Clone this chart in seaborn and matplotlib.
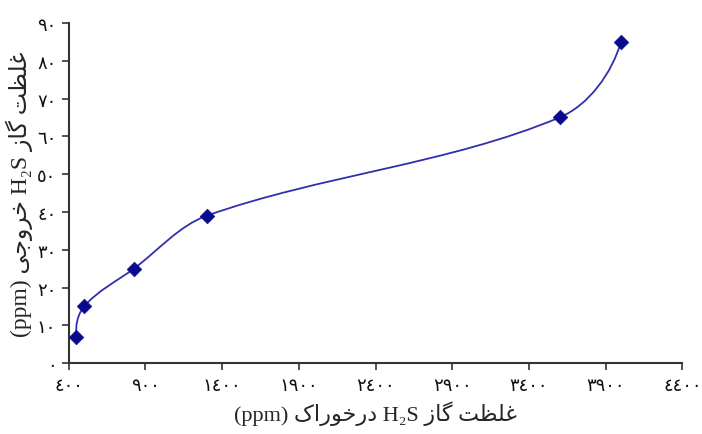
import numpy as np
import matplotlib
matplotlib.use('Agg')
import matplotlib.pyplot as plt
from matplotlib.path import Path
from matplotlib.patches import PathPatch
import seaborn as sns

# ── data ────────────────────────────────────────────────
feed_ppm = [450, 500, 825, 1300, 3600, 4000]   # H2S in feed
outlet_ppm = [7, 15, 25, 39, 65, 85]           # H2S at outlet

x_ticks = [400, 900, 1400, 1900, 2400, 2900, 3400, 3900, 4400]
y_ticks = [0, 10, 20, 30, 40, 50, 60, 70, 80, 90]

# Persian words, pre-shaped glyphs in visual (left-to-right) order,
# since matplotlib has no bidi / shaping engine
W_GHELZAT = '\uFE96\uFEC8\uFEE0\uFECF'              # غلظت
W_GAZ = '\uFEAF\uFE8E\uFB94'                        # گاز
W_DARKHORAK = '\uFB8E\uFE8D\uFEAD\uFEEE\uFEA7\uFEAD\uFEA9'  # درخوراک
W_KHORUJI = '\uFBFD\uFE9F\uFEED\uFEAE\uFEA7'        # خروجی

x_label = '(ppm) ' + W_DARKHORAK + ' H\u2082S ' + W_GAZ + ' ' + W_GHELZAT
y_label = '(ppm) ' + W_KHORUJI + ' H\u2082S ' + W_GAZ + ' ' + W_GHELZAT

FA_DIGITS = str.maketrans('0123456789', '\u0660\u0661\u0662\u0663\u0664\u0665\u0666\u0667\u0668\u0669')


def fa(n):
    return str(n).translate(FA_DIGITS)


def unit(v):
    return v / np.hypot(*v)


def smooth_path(ax, xs, ys, k=0.33):
    """Smoothed line like a spreadsheet chart, built in screen space."""
    p = ax.transData.transform(np.column_stack([xs, ys]).astype(float))
    n = len(p)
    tang = [None] * n
    for i in range(1, n - 1):
        tang[i] = unit(p[i + 1] - p[i - 1])
    # free ends: mirror the neighbour's tangent about the end chord
    tang[0] = unit(2 * unit(p[1] - p[0]) - tang[1])
    tang[-1] = unit(2 * unit(p[-1] - p[-2]) - tang[-2])
    verts = [p[0]]
    codes = [Path.MOVETO]
    for i in range(n - 1):
        L = np.hypot(*(p[i + 1] - p[i]))
        verts += [p[i] + tang[i] * L * k, p[i + 1] - tang[i + 1] * L * k, p[i + 1]]
        codes += [Path.CURVE4] * 3
    verts = ax.transData.inverted().transform(np.array(verts))
    return Path(verts, codes)


sns.set_style('ticks')
fam = ['Liberation Serif', 'DejaVu Sans']
plt.rcParams['font.family'] = fam

fig = plt.figure(figsize=(7.02, 4.35), dpi=100)
ax = fig.add_axes([0.098, 0.163, 0.874, 0.782])

ax.set_xlim(400, 4400)
ax.set_ylim(0, 90)

sns.scatterplot(x=feed_ppm, y=outlet_ppm, marker='D', s=55, color='#0a0a8c',
                edgecolor='#0a0a8c', linewidth=0.5, ax=ax, zorder=3)
ax.add_patch(PathPatch(smooth_path(ax, feed_ppm, outlet_ppm), facecolor='none',
                       edgecolor='#3030a8', linewidth=1.3, zorder=2))

ax.set_xticks(x_ticks)
ax.set_xticklabels([fa(v) for v in x_ticks], fontsize=13, family='DejaVu Sans')
ax.set_yticks(y_ticks)
ax.set_yticklabels([fa(v) for v in y_ticks], fontsize=13, family='DejaVu Sans')
ax.tick_params(axis='both', direction='out', length=5, width=1.2, color='#333333',
               labelcolor='#111111', pad=4)

sns.despine(ax=ax)
for side in ['left', 'bottom']:
    ax.spines[side].set_color('#333333')
    ax.spines[side].set_linewidth(1.5)

ax.set_xlabel(x_label, fontsize=16, family=fam, labelpad=5)
ax.set_ylabel(y_label, fontsize=17, family=fam, labelpad=3)

fig.savefig('out.png', dpi=100)
